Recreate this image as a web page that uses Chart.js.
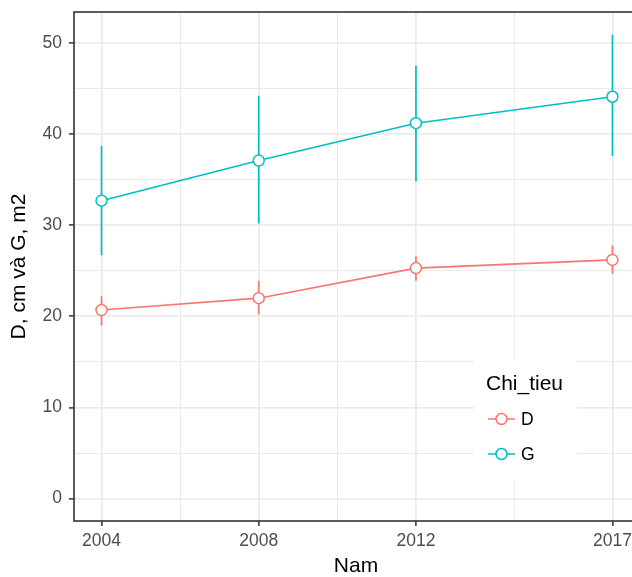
<!DOCTYPE html>
<html>
<head>
<meta charset="utf-8">
<script src="https://cdn.jsdelivr.net/npm/chart.js@4"></script>
<style>
  html, body { margin: 0; padding: 0; background: #fff; overflow: hidden; }
  #wrap { width: 632px; height: 577px; overflow: hidden; }
  canvas { display: block; }
</style>
</head>
<body>
<div id="wrap"><canvas id="chart" width="645" height="577"></canvas></div>
<script>
// data
var years = [2004, 2008, 2012, 2017];
var dMean = [20.7, 22.0, 25.3, 26.2];
var dLow = [19.0, 20.2, 23.9, 24.7];
var dHigh = [22.2, 23.9, 26.6, 27.8];
var gMean = [32.7, 37.1, 41.2, 44.1];
var gLow = [26.7, 30.2, 34.8, 37.6];
var gHigh = [38.7, 44.2, 47.5, 50.9];

var xTicks = [2004, 2006, 2008, 2010, 2012, 2014.5, 2017];
var xMajor = [2004, 2008, 2012, 2017];
var yTicks = [0, 5, 10, 15, 20, 25, 30, 35, 40, 45, 50];
var yMajor = [0, 10, 20, 30, 40, 50];

var colD = '#F8766D';
var colG = '#00BFC4';

Chart.defaults.font.family = '"Liberation Sans", Arial, sans-serif';

function toPoints(vals) {
    return years.map(function (y, i) { return { x: y, y: vals[i] }; });
}

// vertical error bars, drawn under the lines and points
var errorBars = {
    id: 'errorBars',
    beforeDatasetsDraw: function (chart) {
        var ctx = chart.ctx;
        var xs = chart.scales.x, ys = chart.scales.y;
        var sets = [[dLow, dHigh, colD], [gLow, gHigh, colG]];
        ctx.save();
        ctx.lineWidth = 1.7;
        sets.forEach(function (s) {
            ctx.strokeStyle = s[2];
            years.forEach(function (yr, i) {
                var px = xs.getPixelForValue(yr);
                ctx.beginPath();
                ctx.moveTo(px, ys.getPixelForValue(s[0][i]));
                ctx.lineTo(px, ys.getPixelForValue(s[1][i]));
                ctx.stroke();
            });
        });
        ctx.restore();
    }
};

// panel border + legend box inside the panel
var panelExtras = {
    id: 'panelExtras',
    afterDraw: function (chart) {
        var ctx = chart.ctx;
        var a = chart.chartArea;
        ctx.save();
        ctx.strokeStyle = '#333333';
        ctx.lineWidth = 1.6;
        ctx.strokeRect(a.left, a.top, a.right - a.left, a.bottom - a.top);

        // legend
        var lx = 474, ly = 360;
        ctx.fillStyle = '#ffffff';
        ctx.fillRect(lx, ly, 103, 120);
        ctx.fillStyle = '#000000';
        ctx.font = '21px "Liberation Sans", Arial, sans-serif';
        ctx.textBaseline = 'alphabetic';
        ctx.textAlign = 'left';
        ctx.fillText('Chi_tieu', lx + 12, ly + 30);
        ctx.font = '17.5px "Liberation Sans", Arial, sans-serif';
        ctx.textBaseline = 'middle';
        chart.data.datasets.forEach(function (ds, i) {
            var cy = ly + 59 + i * 35;
            ctx.strokeStyle = ds.borderColor;
            ctx.lineWidth = 1.5;
            ctx.beginPath();
            ctx.moveTo(lx + 14, cy);
            ctx.lineTo(lx + 41, cy);
            ctx.stroke();
            ctx.beginPath();
            ctx.arc(lx + 27.5, cy, 5.5, 0, Math.PI * 2);
            ctx.fillStyle = '#ffffff';
            ctx.fill();
            ctx.stroke();
            ctx.fillStyle = '#000000';
            ctx.fillText(ds.label, lx + 47, cy + 1);
        });
        ctx.restore();
    }
};

function gridOpts(major) {
    return {
        color: '#EBEBEB',
        lineWidth: function (c) { return major.indexOf(c.tick.value) >= 0 ? 1.8 : 1.0; },
        tickColor: function (c) { return major.indexOf(c.tick.value) >= 0 ? '#333333' : 'rgba(0,0,0,0)'; },
        tickWidth: 1.5,
        tickLength: 5,
        drawTicks: true
    };
}

new Chart(document.getElementById('chart'), {
    type: 'line',
    data: {
        datasets: [
            {
                label: 'D',
                data: toPoints(dMean),
                borderColor: colD,
                backgroundColor: '#ffffff',
                borderWidth: 1.6,
                pointRadius: 5.5,
                pointBorderWidth: 1.5,
                pointBackgroundColor: '#ffffff',
                pointBorderColor: colD
            },
            {
                label: 'G',
                data: toPoints(gMean),
                borderColor: colG,
                backgroundColor: '#ffffff',
                borderWidth: 1.6,
                pointRadius: 5.5,
                pointBorderWidth: 1.5,
                pointBackgroundColor: '#ffffff',
                pointBorderColor: colG
            }
        ]
    },
    options: {
        responsive: false,
        animation: false,
        layout: { padding: { top: 12, right: 3, bottom: 0, left: 0 } },
        plugins: {
            legend: { display: false },
            tooltip: { enabled: false }
        },
        scales: {
            x: {
                type: 'linear',
                min: 2003.3,
                max: 2017.65,
                afterBuildTicks: function (s) { s.ticks = xTicks.map(function (v) { return { value: v }; }); },
                afterFit: function (s) { s.height = 56; s.paddingLeft = 0; s.paddingRight = 0; },
                grid: gridOpts(xMajor),
                border: { display: false },
                ticks: {
                    color: '#4D4D4D',
                    font: { size: 17.5 },
                    padding: 5,
                    maxRotation: 0,
                    autoSkip: false,
                    callback: function (v) { return xMajor.indexOf(v) >= 0 ? String(v) : ''; }
                },
                title: {
                    display: true,
                    text: 'Nam',
                    color: '#000000',
                    font: { size: 21, lineHeight: 1 },
                    padding: 0
                }
            },
            y: {
                min: -2.45,
                max: 53.4,
                afterBuildTicks: function (s) { s.ticks = yTicks.map(function (v) { return { value: v }; }); },
                afterFit: function (s) { s.width = 74; s.paddingTop = 0; s.paddingBottom = 0; },
                grid: gridOpts(yMajor),
                border: { display: false },
                ticks: {
                    color: '#4D4D4D',
                    font: { size: 17.5 },
                    padding: 7,
                    autoSkip: false,
                    callback: function (v) { return yMajor.indexOf(v) >= 0 ? String(v) : ''; }
                },
                title: {
                    display: true,
                    text: 'D, cm và G, m2',
                    color: '#000000',
                    font: { size: 21, lineHeight: 1.2 },
                    padding: { top: 7, bottom: 0 }
                }
            }
        }
    },
    plugins: [errorBars, panelExtras]
});
</script>
</body>
</html>
